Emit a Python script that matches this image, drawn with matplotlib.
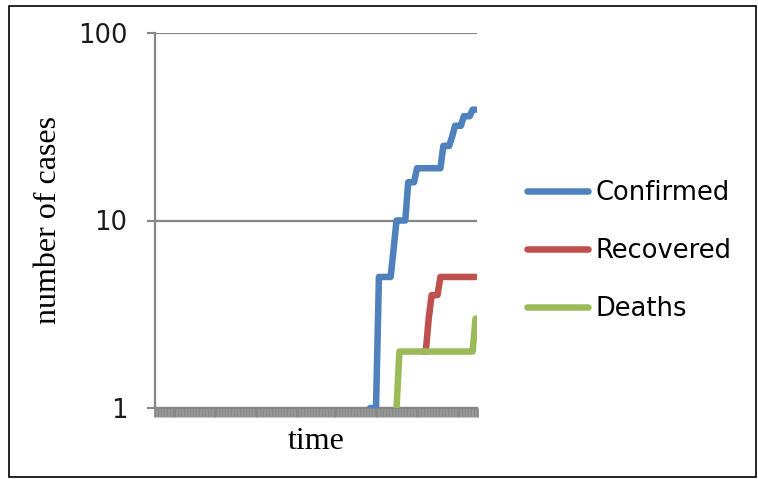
import numpy as np
import matplotlib
matplotlib.use("Agg")
import matplotlib.pyplot as plt
from matplotlib.patches import Rectangle

# daily counts, one value per day; series start on the day of their first count
n_days = 110

confirmed_first_day = 73
confirmed = [1, 1, 1, 5, 5, 5, 5, 5, 7, 10, 10, 10, 10, 16, 16, 16,
             19, 19, 19, 19, 19, 19, 19, 19, 19, 25, 25, 25, 28, 32, 32, 32,
             36, 36, 36, 39, 39]

recovered_first_day = 91
recovered = [2, 2, 3, 4, 4, 4, 5, 5, 5, 5, 5, 5, 5, 5, 5, 5, 5, 5, 5]

deaths_first_day = 82
deaths = [1, 2, 2, 2, 2, 2, 2, 2, 2, 2, 2, 2, 2, 2, 2, 2, 2, 2, 2, 2,
          2, 2, 2, 2, 2, 2, 2, 3]

series_names = ["Confirmed", "Recovered", "Deaths"]
series_colors = ["#4F81BD", "#C0504D", "#9BBB59"]
y_ticks = [1, 10, 100]
y_tick_labels = ["1", "10", "100"]

grey = "#868686"
W, H = 758, 479

fig = plt.figure(figsize=(W / 100, H / 100), dpi=100)
ax = fig.add_axes([155 / W, 1 - 408 / H, 322 / W, 375 / H])

for name, color, start, vals in zip(series_names, series_colors,
                                    [confirmed_first_day, recovered_first_day, deaths_first_day],
                                    [confirmed, recovered, deaths]):
    x = np.arange(start, start + len(vals))
    ax.plot(x, vals, color=color, lw=4.7, label=name,
            solid_capstyle="round", solid_joinstyle="round", zorder=3)

ax.set_yscale("log")
ax.set_ylim(1, 100)
ax.set_xlim(-0.5, n_days - 0.5)
ax.set_yticks(y_ticks)
ax.set_yticklabels(y_tick_labels)
ax.yaxis.set_minor_locator(matplotlib.ticker.NullLocator())
ax.set_xticks(np.arange(n_days + 1) - 0.5)
ax.set_xticklabels([])
ax.xaxis.set_minor_locator(matplotlib.ticker.NullLocator())

ax.tick_params(axis="y", direction="out", length=5.8, width=1.5, color=grey,
               pad=14, labelsize=18.5, labelcolor="#1a1a1a")
ax.tick_params(axis="x", direction="out", length=6.5, width=1.95, color=grey)

for s in ["top", "right"]:
    ax.spines[s].set_visible(False)
for s in ["left", "bottom"]:
    ax.spines[s].set_color(grey)
    ax.spines[s].set_linewidth(1.6)

ax.grid(axis="y", which="major", color=grey, lw=1.6, zorder=1)
ax.set_axisbelow(True)

ax.set_ylabel("number of cases", family="Liberation Serif", fontsize=23, labelpad=10.5)
ax.set_xlabel("time", family="Liberation Serif", fontsize=23, labelpad=4)

ax.legend(loc="center left", bbox_to_anchor=(527 / W, 1 - 251 / H),
          bbox_transform=fig.transFigure, frameon=False, fontsize=18.5,
          handlelength=2.38, handletextpad=0.3, labelspacing=1.25,
          borderpad=0, borderaxespad=0)

fig.add_artist(Rectangle((9 / W, 2 / H), 747 / W, 471 / H, transform=fig.transFigure,
                         fill=False, edgecolor="black", lw=1.2))

fig.savefig("out.png", dpi=100)
